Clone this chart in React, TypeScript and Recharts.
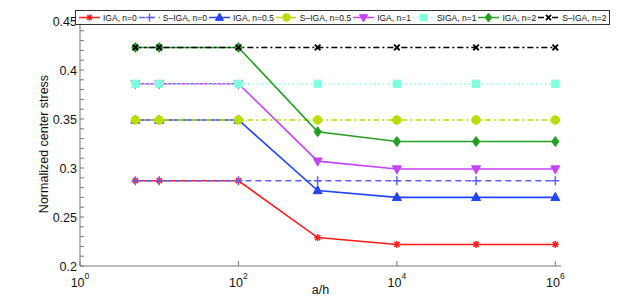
import React from "react";
import { Line, LineChart, XAxis, YAxis } from "recharts";

const aOverH = [5, 10, 100, 1000, 10000, 100000, 1000000];
const igaN0 = [0.287, 0.287, 0.287, 0.229, 0.222, 0.222, 0.222];
const sigaN0 = [0.287, 0.287, 0.287, 0.287, 0.287, 0.287, 0.287];
const igaN05 = [0.349, 0.349, 0.349, 0.277, 0.27, 0.27, 0.27];
const sigaN05 = [0.349, 0.349, 0.349, 0.349, 0.349, 0.349, 0.349];
const igaN1 = [0.386, 0.386, 0.386, 0.307, 0.299, 0.299, 0.299];
const sigaN1 = [0.386, 0.386, 0.386, 0.386, 0.386, 0.386, 0.386];
const igaN2 = [0.423, 0.423, 0.423, 0.337, 0.327, 0.327, 0.327];
const sigaN2 = [0.423, 0.423, 0.423, 0.423, 0.423, 0.423, 0.423];

const xTicks = [1, 100, 10000, 1000000];
const xTickExp = ["0", "2", "4", "6"];
const yMajorTicks = [0.2, 0.25, 0.3, 0.35, 0.4, 0.45];

// minor ticks every 0.01
const yTicks: number[] = [];
for (let i = 0; i <= 25; i++) yTicks.push(Math.round((0.2 + i * 0.01) * 100) / 100);

const data = aOverH.map((x, i) => ({
  x,
  igaN0: igaN0[i],
  sigaN0: sigaN0[i],
  igaN05: igaN05[i],
  sigaN05: sigaN05[i],
  igaN1: igaN1[i],
  sigaN1: sigaN1[i],
  igaN2: igaN2[i],
  sigaN2: sigaN2[i],
}));

type Shape = "asterisk" | "plus" | "triUp" | "circle" | "triDown" | "square" | "diamond" | "cross";

const series: { key: string; name: string; color: string; dash?: string; shape: Shape }[] = [
  { key: "igaN0", name: "IGA, n=0", color: "#ff1a1a", shape: "asterisk" },
  { key: "sigaN0", name: "S\u2013IGA, n=0", color: "#6060ff", dash: "6 4", shape: "plus" },
  { key: "igaN05", name: "IGA, n=0.5", color: "#2244ff", shape: "triUp" },
  { key: "sigaN05", name: "S\u2013IGA, n=0.5", color: "#bbdd00", dash: "6 3 2 3", shape: "circle" },
  { key: "igaN1", name: "IGA, n=1", color: "#c444ff", shape: "triDown" },
  { key: "sigaN1", name: "SIGA, n=1", color: "#80ffdd", dash: "1.5 3", shape: "square" },
  { key: "igaN2", name: "IGA, n=2", color: "#22a022", shape: "diamond" },
  { key: "sigaN2", name: "S\u2013IGA, n=2", color: "#000000", dash: "6 3 2 3", shape: "cross" },
];

function Marker({ cx, cy, shape, color, s = 1 }: { cx: number; cy: number; shape: Shape; color: string; s?: number }) {
  const r = 4.5 * s;
  switch (shape) {
    case "asterisk":
      return (
        <g stroke={color} strokeWidth={1.5}>
          <line x1={cx - 3.5 * s} y1={cy} x2={cx + 3.5 * s} y2={cy} />
          <line x1={cx} y1={cy - 3.5 * s} x2={cx} y2={cy + 3.5 * s} />
          <line x1={cx - 2.6 * s} y1={cy - 2.6 * s} x2={cx + 2.6 * s} y2={cy + 2.6 * s} />
          <line x1={cx - 2.6 * s} y1={cy + 2.6 * s} x2={cx + 2.6 * s} y2={cy - 2.6 * s} />
        </g>
      );
    case "plus":
      return (
        <g stroke={color} strokeWidth={1.5}>
          <line x1={cx - 4 * s} y1={cy} x2={cx + 4 * s} y2={cy} />
          <line x1={cx} y1={cy - 4.5 * s} x2={cx} y2={cy + 4.5 * s} />
        </g>
      );
    case "triUp":
      return <polygon points={`${cx},${cy - r * 1.1} ${cx - r},${cy + r * 0.7} ${cx + r},${cy + r * 0.7}`} fill={color} stroke={color} />;
    case "triDown":
      return <polygon points={`${cx},${cy + r * 1.1} ${cx - r},${cy - r * 0.7} ${cx + r},${cy - r * 0.7}`} fill={color} stroke={color} />;
    case "circle":
      return <circle cx={cx} cy={cy} r={r * 0.95} fill={color} stroke={color} />;
    case "square":
      return <rect x={cx - r * 0.8} y={cy - r * 0.8} width={r * 1.6} height={r * 1.6} fill={color} stroke={color} />;
    case "diamond":
      return <polygon points={`${cx},${cy - r * 1.1} ${cx + r * 0.8},${cy} ${cx},${cy + r * 1.1} ${cx - r * 0.8},${cy}`} fill={color} stroke={color} />;
    case "cross":
      return (
        <g stroke={color} strokeWidth={1.8}>
          <line x1={cx - 2.8 * s} y1={cy - 2.8 * s} x2={cx + 2.8 * s} y2={cy + 2.8 * s} />
          <line x1={cx - 2.8 * s} y1={cy + 2.8 * s} x2={cx + 2.8 * s} y2={cy - 2.8 * s} />
        </g>
      );
  }
  return null;
}

const makeDot = (shape: Shape, color: string) => (p: any) => (
  <Marker key={`${shape}-${p.index}`} cx={p.cx} cy={p.cy} shape={shape} color={color} />
);

const XTick = (p: any) => {
  const idx = xTicks.indexOf(p.payload.value);
  return (
    <g>
      <line x1={p.x} y1={p.y} x2={p.x} y2={p.y - 5} stroke="#777" />
      <text x={p.x} y={p.y + 21} textAnchor="middle" fontSize={12.5} fill="#111">
        <tspan>10</tspan>
        <tspan dy={-8} fontSize={8.5}>{xTickExp[idx]}</tspan>
      </text>
    </g>
  );
};

const YTick = (p: any) => {
  const v = p.payload.value;
  const major = yMajorTicks.some((m) => Math.abs(m - v) < 1e-6);
  return (
    <g>
      <line x1={p.x} y1={p.y} x2={p.x + 4} y2={p.y} stroke="#777" />
      {major && (
        <text x={p.x - 3} y={p.y} dy="0.36em" textAnchor="end" fontSize={12.5} fill="#111">
          {String(v)}
        </text>
      )}
    </g>
  );
};

function LegendBox() {
  return (
    <div
      style={{
        position: "absolute",
        left: 75,
        top: 10,
        height: 13,
        display: "flex",
        alignItems: "center",
        border: "1px solid #333",
        background: "#fff",
        paddingLeft: 3,
        paddingRight: 1,
        fontFamily: "'Liberation Sans', Arial, sans-serif",
        fontSize: 8.5,
        color: "#111",
        whiteSpace: "nowrap",
      }}
    >
      {series.map((s) => (
        <div key={s.key} style={{ display: "flex", alignItems: "center" }}>
          <svg width={21} height={13}>
            <line x1={0} y1={6.5} x2={21} y2={6.5} stroke={s.color} strokeWidth={1.5} strokeDasharray={s.dash} />
            <Marker cx={10.5} cy={6.5} shape={s.shape} color={s.color} s={0.9} />
          </svg>
          <span style={{ marginLeft: 3, marginRight: 2 }}>{s.name}</span>
        </div>
      ))}
    </div>
  );
}

export default function App() {
  return (
    <div
      style={{
        position: "absolute",
        left: 0,
        top: 0,
        width: 620,
        height: 302,
        background: "#fff",
        fontFamily: "'Liberation Sans', Arial, sans-serif",
      }}
    >
      <LineChart width={620} height={302} data={data} margin={{ top: 21, right: 59, bottom: 6, left: 20 }}>
        <XAxis
          dataKey="x"
          type="number"
          scale="log"
          domain={[1, 1180000]}
          allowDataOverflow
          ticks={xTicks}
          interval={0}
          tickLine={false}
          tickSize={0}
          tickMargin={0}
          tick={<XTick />}
          height={30}
          stroke="#777"
          label={{ value: "a/h", position: "insideBottom", offset: 2, fontSize: 12.5, fill: "#111" }}
        />
        <YAxis
          type="number"
          domain={[0.2, 0.45]}
          ticks={yTicks}
          interval={0}
          tickLine={false}
          tickSize={0}
          tickMargin={0}
          tick={<YTick />}
          width={60}
          stroke="#777"
          label={{
            content: () => (
              <text x={48} y={144} transform="rotate(-90 48 144)" textAnchor="middle" fontSize={12.5} fill="#111">
                Normalized center stress
              </text>
            ),
          }}
        />
        {series.map((s) => (
          <Line
            key={s.key}
            type="linear"
            dataKey={s.key}
            name={s.name}
            stroke={s.color}
            strokeWidth={1.6}
            strokeDasharray={s.dash}
            dot={makeDot(s.shape, s.color)}
            activeDot={false}
            isAnimationActive={false}
          />
        ))}
      </LineChart>
      <LegendBox />
    </div>
  );
}
